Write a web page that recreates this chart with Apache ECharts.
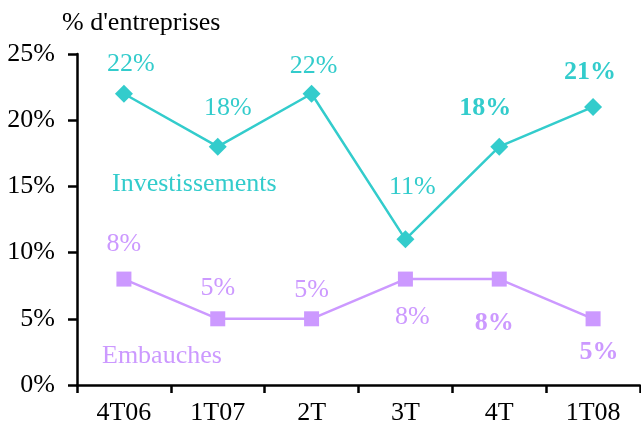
<!DOCTYPE html>
<html>
<head>
<meta charset="utf-8">
<script src="https://cdn.jsdelivr.net/npm/echarts@6/dist/echarts.min.js"></script>
<style>
  html, body { margin: 0; padding: 0; background: #fff; }
  #main { width: 641px; height: 437px; }
</style>
</head>
<body>
<div id="main"></div>
<script>
(function () {
    'use strict';

    var categories = ['4T06', '1T07', '2T', '3T', '4T', '1T08'];
    var investissements = [22, 18, 22, 11, 18, 21];
    var embauches = [8, 5, 5, 8, 8, 5];
    // les deux derniers points sont en gras
    var boldFlags = [false, false, false, false, true, true];

    var invOffsets = [[7, -30], [10, -39], [2, -28], [7, -52], [-14, -38], [-3, -35]];
    var embOffsets = [[0, -35], [0, -31], [0, -29], [7, 38], [-5, 44], [6, 33]];

    var font = '"Liberation Serif", "Times New Roman", serif';
    var teal = '#33CCCC';
    var violet = '#CC99FF';

    function buildData(values, offsets) {
        return values.map(function (v, i) {
            return {
                value: v,
                label: {
                    offset: offsets[i],
                    fontWeight: boldFlags[i] ? 'bold' : 'normal'
                }
            };
        });
    }

    var dom = document.getElementById('main');
    var myChart = echarts.init(dom);

    var option = {
        backgroundColor: '#fff',
        animation: false,
        grid: { left: 77, right: 1, top: 54, bottom: 52 },
        xAxis: {
            type: 'category',
            data: categories,
            boundaryGap: true,
            axisLine: { lineStyle: { color: '#000', width: 2.5 } },
            axisTick: { show: true, length: 8, lineStyle: { color: '#000', width: 2.5 } },
            axisLabel: { color: '#000', fontFamily: font, fontSize: 26, margin: 15 }
        },
        yAxis: {
            type: 'value',
            min: 0,
            max: 25,
            interval: 5,
            axisLine: { show: true, lineStyle: { color: '#000', width: 2.5 } },
            axisTick: { show: true, length: 9, lineStyle: { color: '#000', width: 2.5 } },
            splitLine: { show: false },
            axisLabel: {
                color: '#000', fontFamily: font, fontSize: 26, margin: 22,
                formatter: '{value}%'
            }
        },
        series: [
            {
                name: 'Investissements',
                type: 'line',
                data: buildData(investissements, invOffsets),
                symbol: 'diamond',
                symbolSize: 18,
                itemStyle: { color: teal },
                lineStyle: { color: teal, width: 2.5 },
                label: {
                    show: true,
                    position: 'inside',
                    formatter: '{c}%',
                    color: teal,
                    fontFamily: font,
                    fontSize: 26
                }
            },
            {
                name: 'Embauches',
                type: 'line',
                data: buildData(embauches, embOffsets),
                symbol: 'rect',
                symbolSize: 15,
                itemStyle: { color: violet },
                lineStyle: { color: violet, width: 2.5 },
                label: {
                    show: true,
                    position: 'inside',
                    formatter: '{c}%',
                    color: violet,
                    fontFamily: font,
                    fontSize: 26
                }
            }
        ],
        graphic: [
            {
                type: 'text', left: 62, top: 10,
                style: { text: "% d'entreprises", fill: '#000', font: '26px ' + font }
            },
            {
                type: 'text', left: 112, top: 171,
                style: { text: 'Investissements', fill: teal, font: '26px ' + font }
            },
            {
                type: 'text', left: 102, top: 343,
                style: { text: 'Embauches', fill: violet, font: '26px ' + font }
            }
        ]
    };

    myChart.setOption(option, true);
}());
</script>
</body>
</html>
